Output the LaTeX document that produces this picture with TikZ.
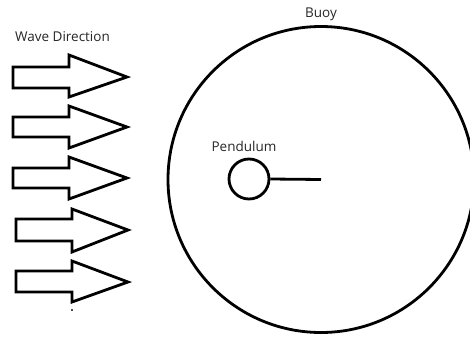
\documentclass[tikz,border=0pt]{standalone}
\usepackage{fontspec}
\setmainfont{Open Sans}
\begin{document}
\begin{tikzpicture}[x=1pt,y=-1pt,
  outline/.style={draw=black,line width=2.8pt,line join=miter},
  lbl/.style={font=\fontsize{13.5}{16}\selectfont,text=black!85,inner sep=0pt}]
\useasboundingbox (0,0) rectangle (470,337);
\begin{scope}
\clip (0,0) rectangle (470,337);
% buoy hull
\draw[outline] (321,179.5) circle (153);
\coordinate (buoyc) at (321,179.5);
\end{scope}
% pendulum bob and arm
\node[outline,circle,minimum size=40pt,inner sep=0pt] (bob) at (249,179) {};
\draw[outline] (bob.east) -- (buoyc);
% labels
\node[lbl] (buoy) at (321,14) {Buoy};
\node[lbl] (pend) at (244,146) {Pendulum};
\node[lbl] (wave) at (62.5,37) {Wave Direction};
% wave arrows: shaft left, shaft top, shaft bottom, head base, head top, head bottom, tip x, tip y
\foreach \i/\l/\st/\sb/\hb/\ht/\hbb/\tx/\ty in {
  1/13/67/88/69/55/97/127/77,
  2/13/117/137/69/106/148/127/127,
  3/13/168/188/69/157/199/127/178,
  4/16/219/241/72/209/252/128/230,
  5/16/271/292/72/261/302/128/282}{
  \draw[outline] (\l,\st) -- (\hb,\st) -- (\hb,\ht) -- (\tx,\ty) -- (\hb,\hbb) -- (\hb,\sb) -- (\l,\sb) -- cycle;
}
% small mark below the arrows
\draw[line width=1.5pt,black!70] (71,310) -- (73,310);
\end{tikzpicture}
\end{document}
